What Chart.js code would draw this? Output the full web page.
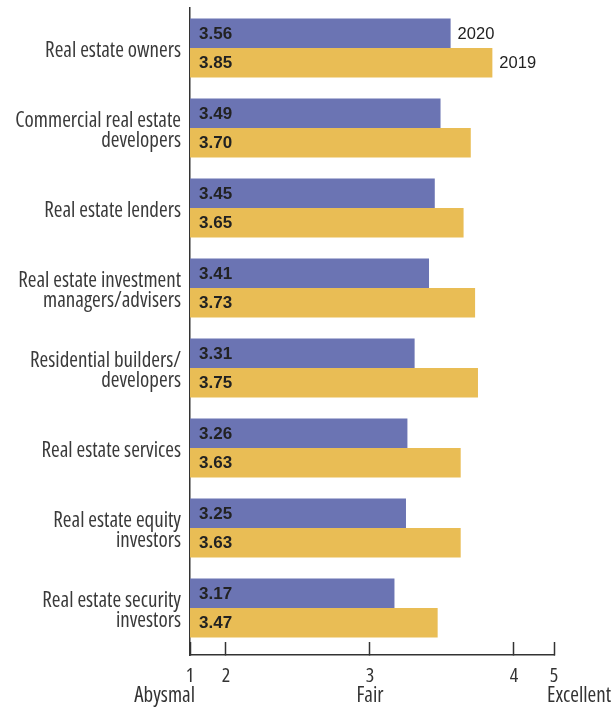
<!DOCTYPE html>
<html>
<head>
<meta charset="utf-8">
<script src="https://cdn.jsdelivr.net/npm/chart.js@4/dist/chart.umd.min.js"></script>
<style>
  html, body { margin: 0; padding: 0; background: #fff; }
  #wrap { width: 616px; height: 709px; }
</style>
</head>
<body>
<div id="wrap"><canvas id="myChart"></canvas></div>
<script>
const categories = [
    ['Real estate owners'],
    ['Commercial real estate', 'developers'],
    ['Real estate lenders'],
    ['Real estate investment', 'managers/advisers'],
    ['Residential builders/', 'developers'],
    ['Real estate services'],
    ['Real estate equity', 'investors'],
    ['Real estate security', 'investors'],
];
const values2020 = [3.56, 3.49, 3.45, 3.41, 3.31, 3.26, 3.25, 3.17];
const values2019 = [3.85, 3.70, 3.65, 3.73, 3.75, 3.63, 3.63, 3.47];
const seriesNames = ['2020', '2019'];
const tickValues = [2, 3, 4];              // axis ends carry the labels 1 and 5
const tickLabels = ['1', '2', '3', '4', '5'];
const tickWords = ['Abysmal', '', 'Fair', '', 'Excellent'];

// Open Sans is variable here, the "condensed" keyword narrows it
const narrow = "'Open Sans', 'DejaVu Sans Condensed', sans-serif";
const plain = "'Liberation Sans', Arial, sans-serif";

// value inside the bar + series name after the first pair of bars
const barText = {
    id: 'barText',
    afterDatasetsDraw(chart) {
        const ctx = chart.ctx;
        const left = chart.chartArea.left;
        ctx.save();
        ctx.textBaseline = 'middle';
        chart.data.datasets.forEach((ds, d) => {
            const meta = chart.getDatasetMeta(d);
            meta.data.forEach((bar, i) => {
                ctx.fillStyle = '#222';
                ctx.textAlign = 'left';
                ctx.font = 'bold 17px ' + plain;
                ctx.fillText(ds.data[i].toFixed(2), left + 9, bar.y + 1);
                if (i === 0) {
                    ctx.font = '16.5px ' + plain;
                    ctx.fillText(ds.label, bar.x + 7, bar.y + 1);
                }
            });
        });
        ctx.restore();
    }
};

// words under the scale numbers
const scaleWords = {
    id: 'scaleWords',
    afterDraw(chart) {
        const scale = chart.scales.x;
        const ctx = chart.ctx;
        ctx.save();
        ctx.font = 'condensed 21px ' + narrow;
        ctx.fillStyle = '#333';
        ctx.textBaseline = 'alphabetic';
        scale.ticks.forEach((t, i) => {
            const w = tickWords[i];
            if (!w) return;
            let x = scale.getPixelForTick(i);
            if (i === 0) { ctx.textAlign = 'right'; x += 5; }
            else if (i === tickWords.length - 1) { ctx.textAlign = 'left'; x -= 7; }
            else ctx.textAlign = 'center';
            ctx.fillText(w, x, 701.5);
        });
        ctx.restore();
    }
};

const data = {
    labels: categories,
    datasets: [{
        label: seriesNames[0],
        data: values2020,
        backgroundColor: '#6b74b3',
        barPercentage: 1,
        categoryPercentage: 0.74,
    }, {
        label: seriesNames[1],
        data: values2019,
        backgroundColor: '#e9bd55',
        barPercentage: 1,
        categoryPercentage: 0.74,
    }]
};

const config = {
    type: 'bar',
    data: data,
    options: {
        indexAxis: 'y',
        responsive: true,
        maintainAspectRatio: false,
        animation: false,
        layout: { padding: { top: 8, right: 62, bottom: 0, left: 0 } },
        plugins: {
            legend: { display: false },
            tooltip: { enabled: false },
        },
        scales: {
            x: {
                type: 'linear',
                min: 1.75,
                max: 4.278,
                afterBuildTicks: (scale) => {
                    scale.ticks = [scale.min, ...tickValues, scale.max].map(v => ({ value: v }));
                },
                afterFit: (scale) => {
                    scale.height = 54;
                    scale.paddingLeft = 0;
                    scale.paddingRight = 0;
                },
                grid: {
                    display: true,
                    drawOnChartArea: false,
                    drawTicks: true,
                    tickLength: -13,
                    tickWidth: 1.5,
                    tickColor: '#333',
                },
                border: { display: true, color: '#333', width: 1.5 },
                ticks: {
                    autoSkip: false,
                    maxRotation: 0,
                    padding: 22,
                    color: '#333',
                    font: { family: narrow, weight: 'condensed', size: 20 },
                    callback: (value, index) => tickLabels[index],
                },
            },
            y: {
                afterBuildTicks: (scale) => {
                    // leave a small gap between the last pair of bars and the axis
                    scale._valueRange = categories.length + 7 / 80;
                },
                afterFit: (scale) => {
                    scale.width = 190;
                    scale.paddingTop = 0;
                    scale.paddingBottom = 0;
                },
                grid: { display: false, tickLength: 0 },
                border: { display: true, color: '#333', width: 1.5 },
                ticks: {
                    padding: 9,
                    labelOffset: 3,
                    color: '#3a3a3a',
                    font: { family: narrow, weight: 'condensed', size: 21, lineHeight: 0.95 },
                },
            },
        },
    },
    plugins: [barText, scaleWords],
};

const myChart = new Chart(document.getElementById('myChart'), config);
</script>
</body>
</html>
